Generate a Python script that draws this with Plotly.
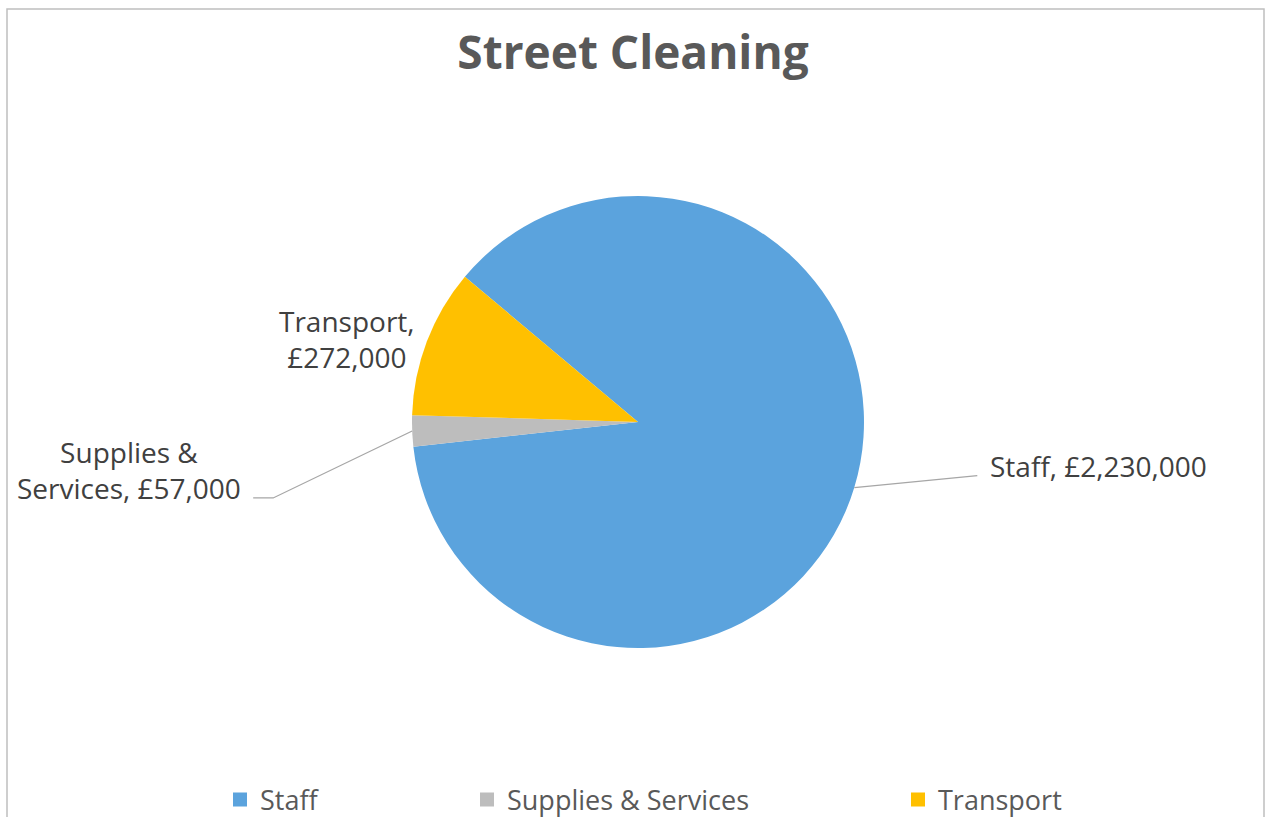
import math
import plotly.graph_objects as go

# ---- data ----
categories = ["Staff", "Supplies & Services", "Transport"]
values = [2230000, 57000, 272000]
label_names = ["Staff", "Supplies &<br>Services", "Transport"]
label_seps = [", ", ", ", ",<br>"]

# ---- style ----
colors = ["#5BA3DD", "#BDBDBD", "#FFC000"]
W, H = 1266, 817
CX, CY, R = 638, 422, 226          # pie centre / radius in pixels
ROTATION = 310                      # first slice start, degrees clockwise from 12 o'clock
FONT = "Open Sans"

def px(x):
    return x / W

def py(y):
    return 1 - y / H

fig = go.Figure()
fig.add_trace(go.Pie(
    labels=categories, values=values, sort=False, direction="clockwise",
    rotation=ROTATION, marker=dict(colors=colors, line=dict(width=0)),
    textinfo="none", hoverinfo="label+value", showlegend=False,
    domain=dict(x=[px(CX - R), px(CX + R)], y=[py(CY + R), py(CY - R)]),
))

# legend entries (one legend per entry so they can be spaced like the original)
legend_x = [220, 467, 898]
for i, (cat, col) in enumerate(zip(categories, colors)):
    lg = "legend" if i == 0 else f"legend{i+1}"
    fig.add_trace(go.Scatter(
        x=[None], y=[None], mode="markers", name=cat, legend=lg,
        marker=dict(symbol="square", size=14, color=col),
    ))

# slice mid-angle anchor points (pixels), derived from the data
total = sum(values)
anchors = []
start = ROTATION
for v in values:
    sweep = 360 * v / total
    mid = math.radians(start + sweep / 2)
    anchors.append((CX + R * math.sin(mid), CY - R * math.cos(mid)))
    start += sweep

# label placement relative to the anchors (dx, dy, xanchor)
label_offsets = [(134, -22, "left"), (-169, 39, "right"), (-10, -2, "right")]
# leader line elbows relative to anchors: list of points
leaders = [
    [(123, -12)],
    [(-139, 67), (-159, 67)],
    [],
]

annotations = []
shapes = [dict(type="rect", xref="paper", yref="paper", x0=px(7), x1=px(1264),
               y0=py(840), y1=py(9), line=dict(color="#BFBFBF", width=1.5),
               fillcolor="rgba(0,0,0,0)", layer="below")]

for (ax, ay), name, sep, v, (dx, dy, xa), pts in zip(anchors, label_names, label_seps,
                                                    values, label_offsets, leaders):
    annotations.append(dict(
        x=px(ax + dx), y=py(ay + dy), xref="paper", yref="paper",
        text=f"{name}{sep}£{v:,}", showarrow=False, xanchor=xa, yanchor="middle",
        align="center", font=dict(family=FONT, size=28, color="#404040"),
    ))
    if pts:
        path = f"M {px(ax)} {py(ay)}"
        for (ex, ey) in pts:
            path += f" L {px(ax + ex)} {py(ay + ey)}"
        shapes.append(dict(type="path", xref="paper", yref="paper", path=path,
                           line=dict(color="#A6A6A6", width=1.3)))

legend_common = dict(orientation="h", xanchor="left", yanchor="middle", y=py(800),
                     font=dict(family=FONT, size=27, color="#595959"),
                     bgcolor="rgba(0,0,0,0)", itemclick=False, itemdoubleclick=False)

fig.update_layout(
    width=W, height=H,
    margin=dict(l=0, r=0, t=0, b=0, autoexpand=False),
    paper_bgcolor="white", plot_bgcolor="white",
    title=dict(text="<b>Street Cleaning</b>", x=0.5, xanchor="center",
               y=py(53), yanchor="middle",
               font=dict(family=FONT, size=46, color="#595959")),
    xaxis=dict(visible=False), yaxis=dict(visible=False),
    legend=dict(x=px(legend_x[0]), **legend_common),
    legend2=dict(x=px(legend_x[1]), **legend_common),
    legend3=dict(x=px(legend_x[2]), **legend_common),
    annotations=annotations, shapes=shapes,
)

fig.write_html("out.html", config={"displayModeBar": False},
               post_script="document.body.style.margin='0';document.body.style.overflow='hidden';")
